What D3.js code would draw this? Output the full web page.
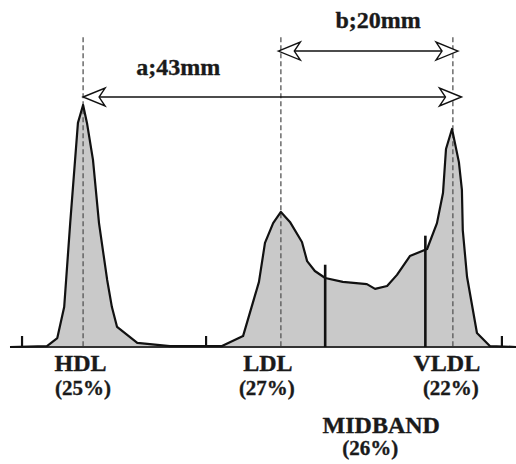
<!DOCTYPE html>
<html>
<head>
<meta charset="utf-8">
<script src="https://cdn.jsdelivr.net/npm/d3@7"></script>
<style>
  body { margin: 0; background: #fff; }
  svg text { font-family: "Liberation Serif", "Times New Roman", serif; font-weight: bold; fill: #1a1a1a; stroke: #1a1a1a; stroke-width: 0.35px; }
</style>
</head>
<body>
<div id="graph"></div>
<script>
// densitometric scan: mobility (mm) vs absorbance (relative units)
const mobility = [0, 4.3, 5.5, 6.3, 7.0, 7.9, 8.5, 8.95, 9.65, 10.35, 11.3, 11.85, 12.45, 14.8, 18.6,
  24.65, 27.1, 28.95, 29.65, 30.6, 31.5, 32.55, 33.95, 34.55, 35.45, 36.65, 38.7, 41.5, 42.45, 43.85,
  45.0, 46.5, 48.5, 49.65, 50.35, 50.7, 51.4, 52.2, 52.55, 52.65, 53.15, 54.3, 55.8, 58.9];
const absorb = [0, 0.4, 3.7, 16.5, 51.2, 92.6, 100, 92.6, 77.3, 51.2, 27.7, 16.5, 8.3, 1.7, 0.4,
  0.4, 4.5, 26.9, 43.0, 51.2, 55.8, 51.7, 43.4, 35.5, 31.4, 28.5, 26.9, 26.0, 24.0, 25.2,
  29.8, 37.6, 40.5, 51.2, 63.6, 81.8, 90.1, 76.4, 64.9, 48.3, 28.9, 5.8, 0.4, 0];

const fractions = ["HDL", "LDL", "VLDL"];
const peaks = [8.5, 31.5, 51.5];
const percents = ["(25%)", "(27%)", "(22%)"];
const midbandName = "MIDBAND";
const midbandPercent = "(26%)";
const midbandBounds = [36.65, 48.3];
const midbandHeights = [34, 46];
const ticks = [1.4, 22.8, 57.2];

const distLabels = ["a;43mm", "b;20mm"];
const distFrom = [8.5, 31.2];
const distTo = [52.5, 52.1];
const distLevel = [103.3, 122.3];
const guideTop = 128;

const W = 516, H = 464;
const x = d3.scaleLinear().domain([0, 58.84]).range([10, 516]);
const y = d3.scaleLinear().domain([0, 100]).range([347, 105]);

const svg = d3.select("#graph").append("svg").attr("width", W).attr("height", H);

const pts = mobility.map((m, i) => [m, absorb[i]]);

// filled trace
svg.append("path")
  .datum(pts)
  .attr("d", d3.area().x(d => x(d[0])).y0(y(0)).y1(d => y(d[1])))
  .attr("fill", "#c9c9c9");

// guide lines through the peaks
svg.selectAll(".guide")
  .data(peaks)
  .enter().append("line")
  .attr("x1", d => x(d)).attr("x2", d => x(d))
  .attr("y1", y(guideTop)).attr("y2", y(0))
  .attr("stroke", "#555").attr("stroke-width", 1.3)
  .attr("stroke-dasharray", "5,3");

// baseline axis
svg.append("line")
  .attr("x1", x(0)).attr("x2", W)
  .attr("y1", y(0)).attr("y2", y(0))
  .attr("stroke", "#333").attr("stroke-width", 2);

svg.selectAll(".tick")
  .data(ticks)
  .enter().append("line")
  .attr("x1", d => x(d)).attr("x2", d => x(d))
  .attr("y1", y(0)).attr("y2", y(0) - 11)
  .attr("stroke", "#111").attr("stroke-width", 2.2);

// trace outline
svg.append("path")
  .datum(pts)
  .attr("d", d3.line().x(d => x(d[0])).y(d => y(d[1])))
  .attr("fill", "none")
  .attr("stroke", "#111")
  .attr("stroke-width", 2.2)
  .attr("stroke-linejoin", "round");

// midband bounds
svg.selectAll(".mid")
  .data(midbandBounds)
  .enter().append("line")
  .attr("x1", d => x(d)).attr("x2", d => x(d))
  .attr("y1", (d, i) => y(midbandHeights[i])).attr("y2", y(0))
  .attr("stroke", "#111").attr("stroke-width", 2.6);

// distance arrows
function arrowHead(tx, ty, dir) {
  // open notched arrowhead, dir = +1 points right, -1 points left
  const L = 22, N = 16, hw = 9;
  return `M${tx},${ty} L${tx - dir * L},${ty - hw} L${tx - dir * N},${ty} L${tx - dir * L},${ty + hw} Z`;
}
distLabels.forEach((lab, i) => {
  const x0 = x(distFrom[i]), x1 = x(distTo[i]), yy = y(distLevel[i]);
  svg.append("line")
    .attr("x1", x0 + 16).attr("x2", x1 - 16)
    .attr("y1", yy).attr("y2", yy)
    .attr("stroke", "#111").attr("stroke-width", 1.6);
  svg.append("path").attr("d", arrowHead(x0, yy, -1))
    .attr("fill", "#fff").attr("stroke", "#111").attr("stroke-width", 1.4);
  svg.append("path").attr("d", arrowHead(x1, yy, 1))
    .attr("fill", "#fff").attr("stroke", "#111").attr("stroke-width", 1.4);
});
// label a sits left of centre, label b right of centre
const distDx = [-94, 10];
const distDy = [-22, -23];
svg.selectAll(".dist")
  .data(distLabels)
  .enter().append("text")
  .attr("x", (d, i) => (x(distFrom[i]) + x(distTo[i])) / 2 + distDx[i])
  .attr("y", (d, i) => y(distLevel[i]) + distDy[i])
  .attr("text-anchor", "middle")
  .style("font-size", "24px")
  .text(d => d);

// fraction labels
const nameDx = [-2.5, -13, -6];
const pctDx = [0, -14, -2];
svg.selectAll(".name")
  .data(fractions)
  .enter().append("text")
  .attr("x", (d, i) => x(peaks[i]) + nameDx[i])
  .attr("y", 371)
  .attr("text-anchor", "middle")
  .style("font-size", "24px")
  .text(d => d);
svg.selectAll(".pct")
  .data(percents)
  .enter().append("text")
  .attr("x", (d, i) => x(peaks[i]) + pctDx[i])
  .attr("y", 395)
  .attr("text-anchor", "middle")
  .style("font-size", "21px")
  .text(d => d);

const midC = (x(midbandBounds[0]) + x(midbandBounds[1])) / 2;
svg.append("text")
  .attr("x", midC + 6).attr("y", 433)
  .attr("text-anchor", "middle")
  .style("font-size", "24px")
  .text(midbandName);
svg.append("text")
  .attr("x", midC - 5).attr("y", 455)
  .attr("text-anchor", "middle")
  .style("font-size", "21px")
  .text(midbandPercent);
</script>
</body>
</html>
